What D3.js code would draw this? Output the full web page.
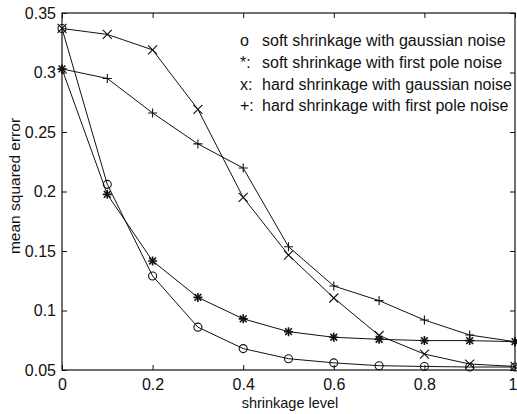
<!DOCTYPE html>
<html>
<head>
<meta charset="utf-8">
<script src="https://cdn.jsdelivr.net/npm/d3@7"></script>
<style>
  body { margin: 0; background: #fff; }
  svg { display: block; font-family: 'Liberation Sans', Arial, sans-serif; }
</style>
</head>
<body>
<div class="canvas"></div>
<script>
// shrinkage levels
const levels = [0, 0.1, 0.2, 0.3, 0.4, 0.5, 0.6, 0.7, 0.8, 0.9, 1.0]

// mean squared error per series
const softGauss = [0.337, 0.206, 0.129, 0.086, 0.068, 0.0595, 0.056, 0.0536, 0.053, 0.0525, 0.0525]
const softPole = [0.303, 0.1976, 0.1416, 0.111, 0.093, 0.0822, 0.0775, 0.0758, 0.0747, 0.0747, 0.0738]
const hardGauss = [0.337, 0.332, 0.319, 0.269, 0.195, 0.1466, 0.1105, 0.079, 0.0634, 0.055, 0.053]
const hardPole = [0.303, 0.295, 0.266, 0.24, 0.2197, 0.1536, 0.1206, 0.1083, 0.092, 0.0794, 0.0738]

const xTicks = [0, 0.2, 0.4, 0.6, 0.8, 1]
const yTicks = [0.05, 0.1, 0.15, 0.2, 0.25, 0.3, 0.35]

const legendLabels = [
  { mark: 'o', text: 'soft shrinkage with gaussian noise' },
  { mark: '*:', text: 'soft shrinkage with first pole noise' },
  { mark: 'x:', text: 'hard shrinkage with gaussian noise' },
  { mark: '+:', text: 'hard shrinkage with first pole noise' }
]

const series = [
  { values: softGauss, marker: 'circle' },
  { values: softPole, marker: 'star' },
  { values: hardGauss, marker: 'cross' },
  { values: hardPole, marker: 'plus' }
]

const W = 517
const H = 414
const margin = { left: 62, right: 2, top: 13, bottom: 44 }

const svg = d3
  .select('.canvas')
  .append('svg')
  .attr('width', W)
  .attr('height', H)

const x = d3.scaleLinear().domain([0, 1]).range([margin.left, W - margin.right])
const y = d3.scaleLinear().domain([0.05, 0.35]).range([H - margin.bottom, margin.top])

const ink = '#111'

// box
svg
  .append('rect')
  .attr('x', x(0))
  .attr('y', y(0.35))
  .attr('width', x(1) - x(0))
  .attr('height', y(0.05) - y(0.35))
  .attr('fill', 'none')
  .attr('stroke', ink)
  .attr('stroke-width', 1.2)

// axes, ticks pointing inward
svg
  .append('g')
  .attr('transform', `translate(0, ${y(0.05)})`)
  .call(d3.axisBottom(x).tickValues(xTicks).tickSizeInner(-5).tickSizeOuter(0).tickPadding(9).tickFormat(d3.format('')))
svg
  .append('g')
  .attr('transform', `translate(${x(0)}, 0)`)
  .call(d3.axisLeft(y).tickValues(yTicks).tickSizeInner(-5).tickSizeOuter(0).tickPadding(6).tickFormat(d3.format('')))

svg
  .append('g')
  .attr('transform', `translate(0, ${y(0.35)})`)
  .call(d3.axisTop(x).tickValues(xTicks).tickSizeInner(-5).tickSizeOuter(0).tickFormat(''))
svg
  .append('g')
  .attr('transform', `translate(${x(1)}, 0)`)
  .call(d3.axisRight(y).tickValues(yTicks).tickSizeInner(-5).tickSizeOuter(0).tickFormat(''))

svg.selectAll('.domain').remove()
svg.selectAll('.tick line').attr('stroke', ink)
svg
  .selectAll('.tick text')
  .attr('fill', ink)
  .attr('font-size', 16)
  .attr('font-family', "'Liberation Sans', Arial, sans-serif")

// the last x label sits at the right edge; keep it inside the window
svg
  .selectAll('.tick text')
  .filter(d => d === 1)
  .attr('text-anchor', 'end')
  .attr('dx', 2)

// axis titles
svg
  .append('text')
  .attr('x', 290)
  .attr('y', H - 6)
  .attr('text-anchor', 'middle')
  .attr('font-size', 14.5)
  .attr('fill', ink)
  .text('shrinkage level')

svg
  .append('text')
  .attr('transform', `translate(20, 186) rotate(-90)`)
  .attr('text-anchor', 'middle')
  .attr('font-size', 15.5)
  .attr('fill', ink)
  .text('mean squared error')

// lines
const line = d3
  .line()
  .x((d, i) => x(levels[i]))
  .y(d => y(d))

const drawMarker = (g, type) => {
  const s = 4.5
  if (type === 'circle') {
    g.append('circle').attr('r', 4).attr('fill', 'none').attr('stroke', ink)
  } else if (type === 'plus' || type === 'star') {
    g.append('path').attr('d', `M${-s},0H${s}M0,${-s}V${s}`).attr('stroke', ink)
  }
  if (type === 'cross' || type === 'star') {
    const c = type === 'star' ? s * 0.75 : s
    g.append('path').attr('d', `M${-c},${-c}L${c},${c}M${-c},${c}L${c},${-c}`).attr('stroke', ink)
  }
}

series.forEach(s => {
  svg
    .append('path')
    .attr('d', line(s.values))
    .attr('fill', 'none')
    .attr('stroke', ink)
    .attr('stroke-width', 1)

  svg
    .append('g')
    .selectAll('g')
    .data(s.values)
    .join('g')
    .attr('transform', (d, i) => `translate(${x(levels[i])}, ${y(d)})`)
    .each(function() {
      drawMarker(d3.select(this), s.marker)
    })
    .selectAll('path, circle')
    .attr('stroke-width', s.marker === 'star' ? 1.6 : 1.1)
})

// legend (plain text, no box)
const legend = svg.append('g').attr('font-size', 16).attr('fill', ink)
legendLabels.forEach((d, i) => {
  const ly = 46 + i * 21.8
  legend.append('text').attr('x', 240).attr('y', ly).text(d.mark)
  legend.append('text').attr('x', 262).attr('y', ly).text(d.text)
})
</script>
</body>
</html>
